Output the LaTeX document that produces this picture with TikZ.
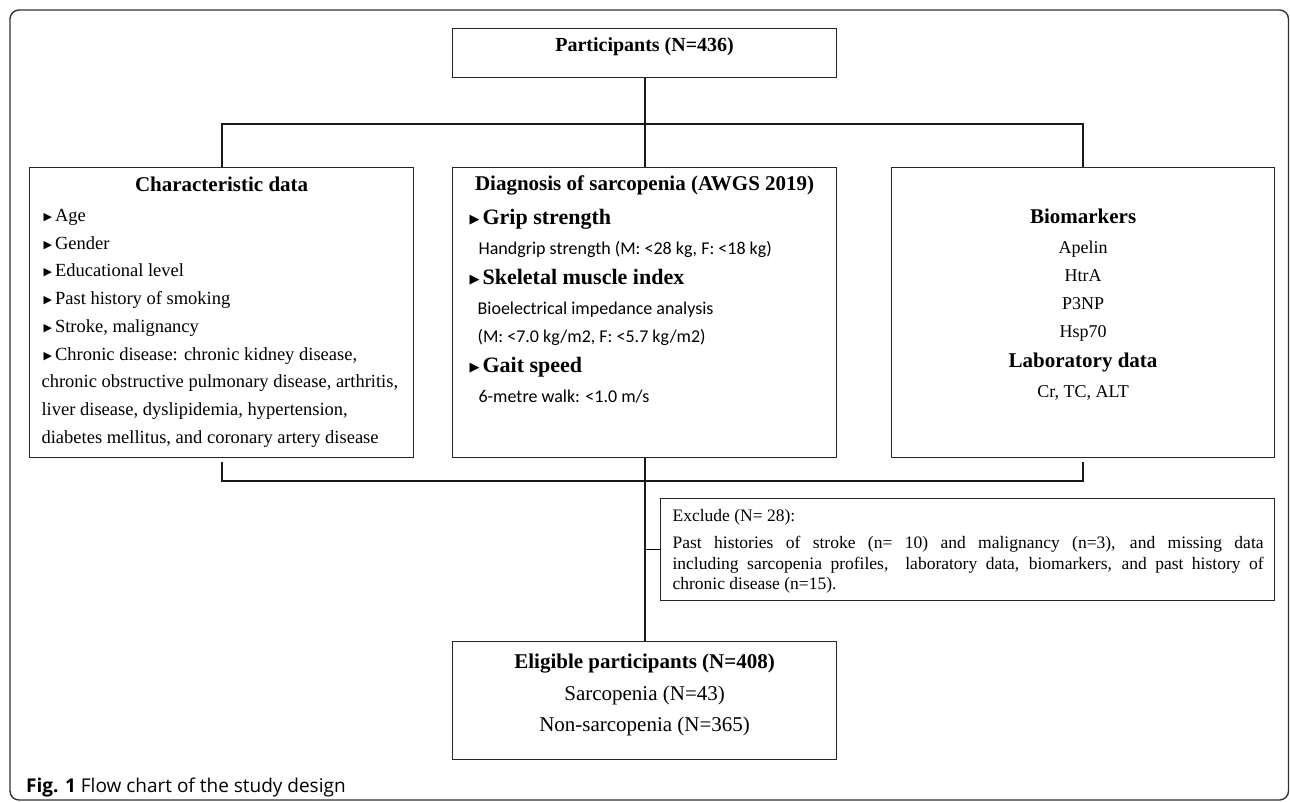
\documentclass[tikz,border=0pt]{standalone}
\usepackage{fontspec}
\setmainfont{Liberation Serif}
\newfontfamily\calfont{Carlito}
\newfontfamily\capfont{Open Sans}
\newfontfamily\symfont{DejaVu Sans}
\usepackage{tikz}
\newcommand{\bul}[1]{\raisebox{1pt}{\symfont\fontsize{#1}{#1}\selectfont ▶}}
\newcommand{\boxhead}{\bfseries\fontsize{21}{21}\selectfont}

\begin{document}
\begin{tikzpicture}[x=1pt, y=-1pt,
            box/.style={draw=black!85, line width=1.2pt, inner sep=0pt, anchor=north west},
            link/.style={line width=2.2pt, black!90},
            every node/.style={inner sep=0pt}]
    \useasboundingbox (0,0) rectangle (1290,801);
    \draw[black!80, line width=1.4pt, rounded corners=9pt] (10,10) rectangle (1288.5,800);

    \node[box] (part) at (452,28) {\parbox[t][49pt][t]{384pt}{%
        \vspace*{9pt}\centering\bfseries\fontsize{20}{20}\selectfont Participants (N=436)}};

    \node[box] (charac) at (29,167) {\parbox[t][290pt][t]{384pt}{%
        \vspace*{9.5pt}
        {\centering\boxhead Characteristic data\par}
        \vspace{2pt}
        \fontsize{18.5}{27.75}\selectfont\raggedright\leftskip=12pt
        \hspace*{2pt}\bul{11}\hspace{3pt}Age\\
        \hspace*{2pt}\bul{11}\hspace{3pt}Gender\\
        \hspace*{2pt}\bul{11}\hspace{3pt}Educational level\\
        \hspace*{2pt}\bul{11}\hspace{3pt}Past history of smoking\\
        \hspace*{2pt}\bul{11}\hspace{3pt}Stroke, malignancy\\
        \hspace*{2pt}\bul{11}\hspace{3pt}Chronic disease: chronic kidney disease,\\
        chronic obstructive pulmonary disease, arthritis,\\
        liver disease, dyslipidemia, hypertension,\\
        diabetes mellitus, and coronary artery disease}};

    \node[box] (diag) at (452,167) {\parbox[t][290pt][t]{384pt}{%
        \vspace*{8.5pt}
        {\centering\boxhead Diagnosis of sarcopenia (AWGS 2019)\par}
        \vspace{4pt}
        \fontsize{18}{30}\selectfont\raggedright\leftskip=17pt
        \bul{13}\hspace{3pt}{\bfseries\fontsize{22}{30}\selectfont Grip strength}\\
        \hspace*{9pt}{\calfont Handgrip strength (M: <28 kg, F: <18 kg)}\\
        \bul{13}\hspace{3pt}{\bfseries\fontsize{22}{30}\selectfont Skeletal muscle index}\\
        \hspace*{8pt}{\calfont Bioelectrical impedance analysis}\\[-2pt]
        \hspace*{8pt}{\calfont (M: <7.0 kg/m2, F: <5.7 kg/m2)}\\
        \bul{13}\hspace{3pt}{\bfseries\fontsize{22}{30}\selectfont Gait speed}\\
        \hspace*{9pt}{\calfont 6-metre walk: <1.0 m/s}}};

    \node[box] (biom) at (891,167) {\parbox[t][290pt][t]{383pt}{%
        \vspace*{41.5pt}\centering
        {\boxhead Biomarkers\par}
        \vspace{2pt}
        \fontsize{18}{28}\selectfont
        Apelin\\ HtrA\\ P3NP\\ Hsp70\\[2pt]
        {\boxhead Laboratory data}\\[2pt]
        Cr, TC, ALT}};

    \node[box] (excl) at (660,498) {\parbox[t][102pt][t]{614pt}{%
        \vspace*{11pt}\fontsize{17.5}{20.5}\selectfont\leftskip=12pt\rightskip=11pt
        Exclude (N= 28):\par\vspace{6.5pt}
        Past histories of stroke (n= 10) and malignancy (n=3), and missing data\linebreak
        including sarcopenia profiles,\ \ laboratory data, biomarkers, and past history of\linebreak
        chronic disease (n=15).}};

    \node[box] (elig) at (452,641) {\parbox[t][118pt][t]{384pt}{%
        \vspace*{12.5pt}\centering
        {\boxhead Eligible participants (N=408)\par}
        \fontsize{21}{31.5}\selectfont
        Sarcopenia (N=43)\\
        Non-sarcopenia (N=365)}};

    \node[anchor=base west, font=\capfont\fontsize{19}{19}\selectfont] (caption) at (26,792)
        {\textbf{Fig. 1} Flow chart of the study design};

    \coordinate (split) at (644,124);
    \coordinate (merge) at (644,481);
    \draw[link] (part.south) -- (diag.north);
    \draw[link] (charac.north) |- (split) -| (biom.north);
    \draw[link] ([yshift=-4pt]charac.south) |- (merge) -| ([yshift=-4pt]biom.south);
    \draw[link] (diag.south) -- (elig.north);
    \draw[line width=1pt] (excl.west) -- (excl.west -| diag.south);
\end{tikzpicture}
\end{document}
